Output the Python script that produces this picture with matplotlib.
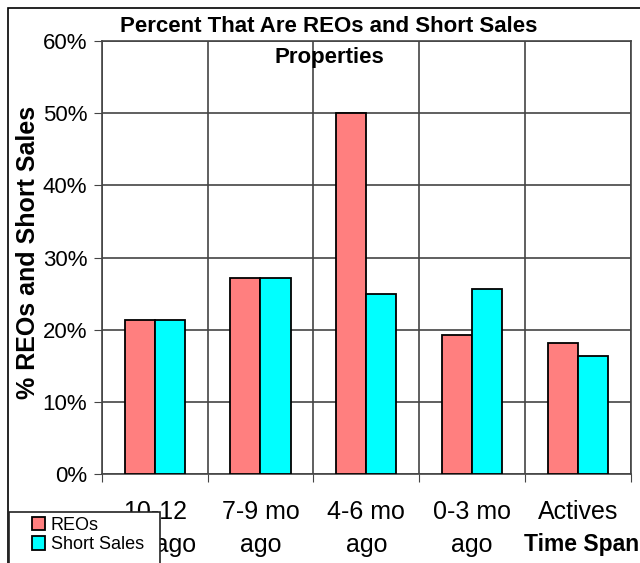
import matplotlib.pyplot as plt
import matplotlib.patches as patches
import matplotlib.transforms as mtransforms
import numpy as np

plt.rcParams['font.family'] = ['Liberation Sans', 'DejaVu Sans']

# data
categories = ["10-12", "7-9 mo", "4-6 mo", "0-3 mo", "Actives"]
second_line = ["mo ago", "ago", "ago", "ago", ""]
reos = [21.4, 27.1, 50.0, 19.2, 18.2]
short_sales = [21.4, 27.1, 24.9, 25.7, 16.4]

fig = plt.figure(figsize=(6.4, 5.63), dpi=100)
ax = fig.add_axes([101.7/640, 1-474/563, (631-101.7)/640, (474-41)/563])

x = np.arange(len(categories))
w = 0.284
ax.bar(x - w/2, reos, w, color="#FF7F7F", edgecolor="black", linewidth=1.3, label="REOs", zorder=3)
ax.bar(x + w/2, short_sales, w, color="#00FFFF", edgecolor="black", linewidth=1.3, label="Short Sales", zorder=3)

ax.set_xlim(-0.5, len(categories) - 0.5)
ax.set_ylim(0, 60)
ax.set_yticks(np.arange(0, 61, 10))
ax.set_yticklabels(["{}%".format(v) for v in range(0, 61, 10)], fontsize=16)
ax.yaxis.grid(True, color="#444444", linewidth=1.2, zorder=0)

# vertical lines at category boundaries, ticks there as well
bounds = np.arange(-0.5, len(categories), 1.0)
for b in bounds:
    ax.axvline(b, color="#444444", linewidth=1.2, zorder=0)
ax.set_xticks(bounds)
ax.set_xticklabels([""] * len(bounds))
ax.tick_params(axis="x", length=6, color="#444444")
ax.tick_params(axis="y", length=6, color="#444444", pad=4.5)
for s in ax.spines.values():
    s.set_color("#444444")
    s.set_linewidth(1.2)

# two-line category labels
trans = mtransforms.blended_transform_factory(ax.transData, fig.transFigure)
for i in range(len(categories)):
    ax.text(x[i], 1-512/563, categories[i], transform=trans, ha="center", va="center", fontsize=18)
    ax.text(x[i], 1-545/563, second_line[i], transform=trans, ha="center", va="center", fontsize=18)

fig.text(329/640, 1-27/563, "Percent That Are REOs and Short Sales", ha="center", va="center",
         fontsize=16, fontweight="bold")
fig.text(329/640, 1-58/563, "Properties", ha="center", va="center", fontsize=16, fontweight="bold")
fig.text(28/640, 1-252/563, "% REOs and Short Sales", rotation=90, ha="center", va="center",
         fontsize=18, fontweight="bold")
fig.text(639/640, 1-545/563, "Time Span", ha="right", va="center", fontsize=16.5, fontweight="bold")

# outer chart border (cut off at right and bottom)
fig.patches.append(patches.Rectangle((8/640, -0.1), 1.2, 1.1 - 8/563, transform=fig.transFigure,
                                     fill=False, edgecolor="black", linewidth=1.2))

# legend box, running off the bottom edge like the reference
fig.patches.append(patches.Rectangle((9/640, -0.05), (160-9)/640, 0.05 + 1-512/563,
                                     transform=fig.transFigure, facecolor="white",
                                     edgecolor="#222222", linewidth=1.2, zorder=4))
leg = fig.legend(loc="upper left", bbox_to_anchor=(28/640, 1-513/563), fontsize=13,
                 frameon=False, borderaxespad=0,
                 handlelength=0.75, handleheight=0.75, handletextpad=0.3, labelspacing=0.15,
                 borderpad=0.2)
leg.set_zorder(5)

fig.savefig("out.png", dpi=100)
